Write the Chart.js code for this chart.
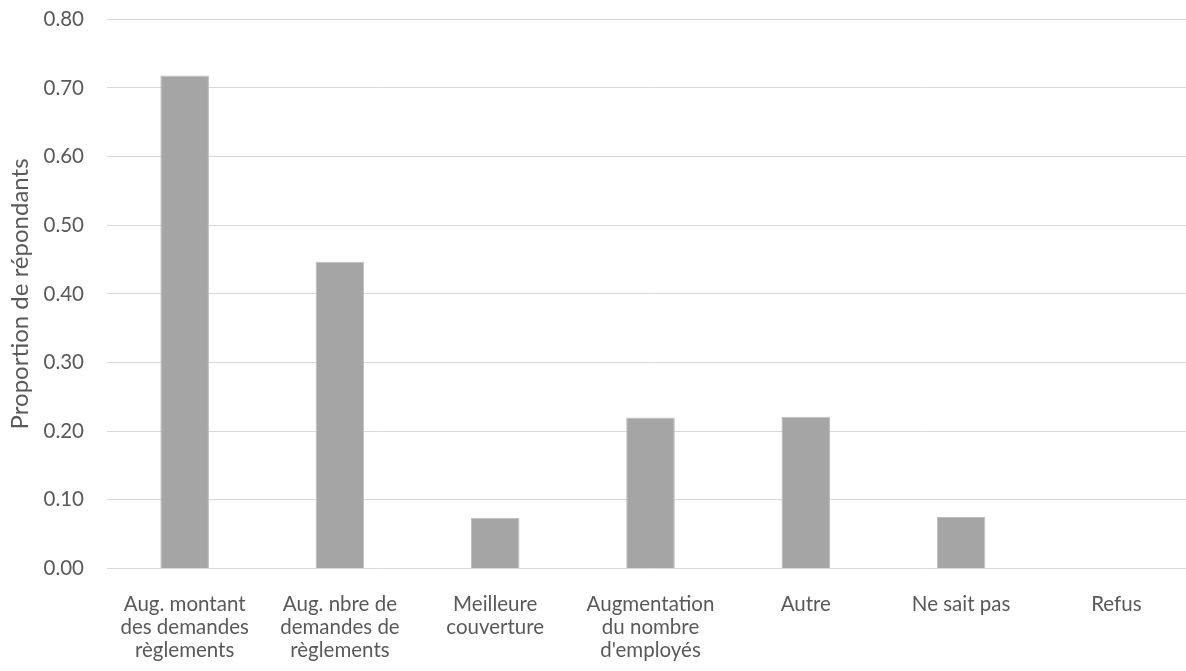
<!DOCTYPE html>
<html lang="fr">
<head>
<meta charset="utf-8">
<title>Proportion de répondants</title>
<script src="https://cdn.jsdelivr.net/npm/chart.js@4/dist/chart.umd.min.js"></script>
<style>
  html, body { margin: 0; padding: 0; background: #fff; overflow: hidden; }
  #wrap { width: 1186px; height: 671px; overflow: hidden; }
  #chart { display: block; margin-top: -16px; }
</style>
</head>
<body>
<div id="wrap"><canvas id="chart" width="1200" height="687"></canvas></div>
<script>
// catégories (libellés sur plusieurs lignes)
const categories = [
    ['Aug. montant', 'des demandes', 'règlements'],
    ['Aug. nbre de', 'demandes de', 'règlements'],
    ['Meilleure', 'couverture'],
    ['Augmentation', 'du nombre', "d'employés"],
    'Autre',
    'Ne sait pas',
    'Refus'
];
const proportions = [0.718, 0.447, 0.074, 0.220, 0.221, 0.075, 0];
const yTicks = { min: 0, max: 0.8, step: 0.1 };

const textColor = '#595959';
const gridColor = '#d9d9d9';
const fontFamily = 'Lato, "Open Sans", sans-serif';

const ctx = document.getElementById('chart').getContext('2d');
new Chart(ctx, {
    type: 'bar',
    data: {
        labels: categories,
        datasets: [{
            label: 'Proportion de répondants',
            data: proportions,
            backgroundColor: '#a5a5a5',
            borderColor: '#bdbdbd',
            borderWidth: 1,
            categoryPercentage: 1,
            barPercentage: 0.313
        }]
    },
    options: {
        responsive: false,
        animation: false,
        layout: { padding: { top: 7, right: 6, bottom: 0, left: 6 } },
        plugins: {
            legend: { display: false },
            tooltip: { enabled: false }
        },
        scales: {
            x: {
                grid: { display: false, drawTicks: false },
                border: { display: false },
                ticks: {
                    color: textColor,
                    font: { family: fontFamily, size: 20.5, lineHeight: 1.12 },
                    padding: 24,
                    maxRotation: 0,
                    autoSkip: false
                },
                // hauteur fixe de l'axe pour placer la ligne de base
                afterFit: s => { s.height = 102.5; }
            },
            y: {
                min: yTicks.min,
                max: yTicks.max,
                border: { display: false },
                grid: { color: gridColor, lineWidth: 1, drawTicks: false },
                ticks: {
                    stepSize: yTicks.step,
                    color: textColor,
                    font: { family: fontFamily, size: 20.5 },
                    padding: 23,
                    callback: v => v.toFixed(2)
                },
                title: {
                    display: true,
                    text: 'Proportion de répondants',
                    color: textColor,
                    font: { family: fontFamily, size: 24 },
                    padding: { top: 0, bottom: 4 }
                },
                afterFit: s => { s.width = 101; }
            }
        }
    }
});
</script>
</body>
</html>
